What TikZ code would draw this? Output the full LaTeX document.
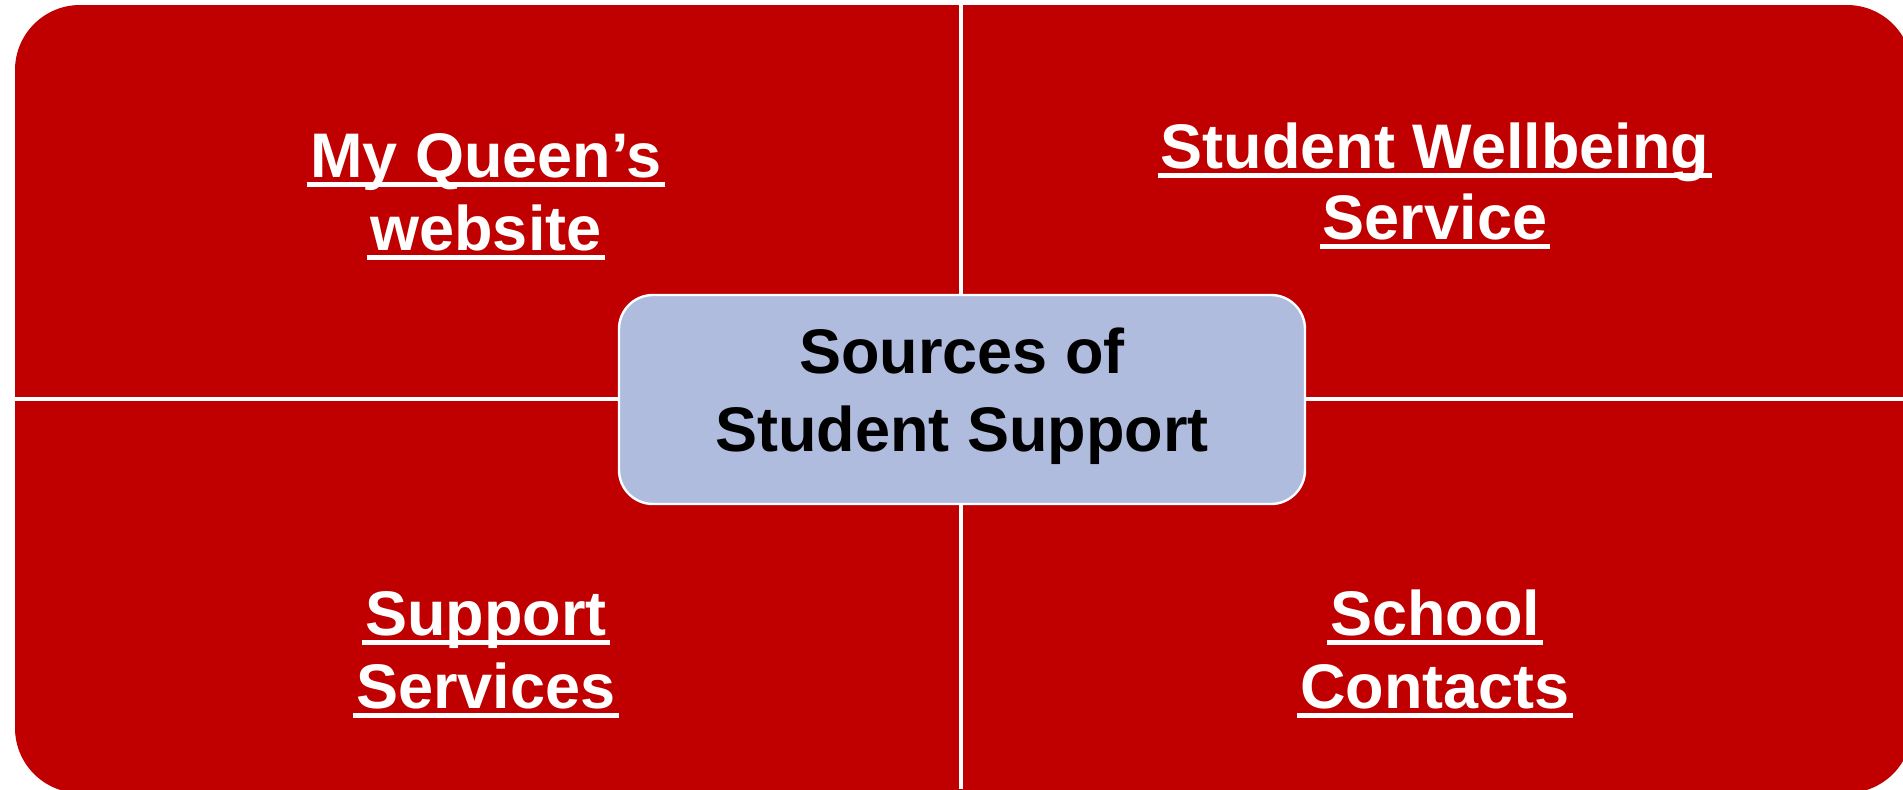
\documentclass[tikz,border=0pt]{standalone}
\usepackage{fontspec}
\setmainfont{Liberation Sans}
\definecolor{qred}{RGB}{192,0,0}
\definecolor{qblue}{RGB}{176,188,222}
\newcommand\qul[1]{\setbox0=\hbox{#1}\hbox{\kern-0.05em\rlap{\rule[-0.16em]{\dimexpr\wd0+0.1em\relax}{0.08em}}\kern0.05em\box0}}
\tikzset{
  qtext/.style={text=white, font=\bfseries\fontsize{31.5}{36.5}\selectfont, inner sep=0pt, anchor=base},
  ctext/.style={text=black, font=\bfseries\fontsize{31.5}{36.5}\selectfont, inner sep=0pt, anchor=base},
  centerbox/.style={draw=white, line width=1.2pt, fill=qblue, rounded corners=17pt,
    minimum width=343pt, minimum height=104.5pt, inner sep=0pt},
  divider/.style={draw=white, line width=1.6pt}
}
\begin{document}
\begin{tikzpicture}[x=0.5pt,y=-0.5pt]
\useasboundingbox (0,0) rectangle (1903,789);
\clip (0,0) rectangle (1903,789);
\fill[white] (0,0) rectangle (1903,789);
% red matrix
\fill[qred, rounded corners=32.5pt] (15,5) rectangle (1912,793);
\coordinate (vt) at (961,0);
\coordinate (vb) at (961,789);
\coordinate (hl) at (0,399);
\coordinate (hr) at (1903,399);
\draw[divider] (vt) -- (vb);
\draw[divider] (hl) -- (hr);
% quadrant texts
\node[qtext] (tl1) at (486,177) {\qul{My Queen’s}};
\node[qtext] (tl2) at (486,250) {\qul{website}};
\node[qtext] (tr1) at (1435,168) {\qul{Student Wellbeing}};
\node[qtext] (tr2) at (1435,239) {\qul{Service}};
\node[qtext] (bl1) at (486,635) {\qul{Support}};
\node[qtext] (bl2) at (486,708) {\qul{Services}};
\node[qtext] (br1) at (1435,635) {\qul{School}};
\node[qtext] (br2) at (1435,708) {\qul{Contacts}};
% center box
\node[centerbox] (cb) at (962,399.5) {};
\node[ctext] (c1) at (962,373) {Sources of};
\node[ctext] (c2) at (962,451) {Student Support};
\end{tikzpicture}
\end{document}
